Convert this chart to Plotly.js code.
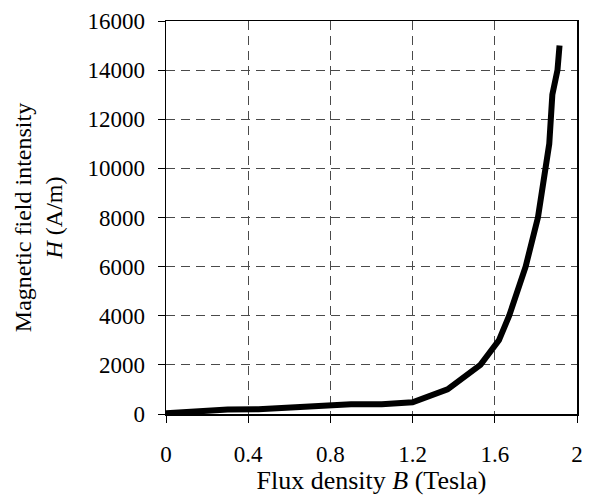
<!DOCTYPE html>
<html>
<head>
<meta charset="utf-8">
<script src="https://cdn.plot.ly/plotly-3.0.1.min.js"></script>
<style>html,body{margin:0;padding:0;background:#fff;}#chart{width:589px;height:495px;}</style>
</head>
<body>
<div id="chart"></div>
<script>
var fluxB = [0, 0.3, 0.45, 0.9, 1.05, 1.2, 1.37, 1.53, 1.62, 1.67, 1.75, 1.81, 1.865, 1.88, 1.905, 1.915];
var fieldH = [30, 180, 190, 400, 400, 480, 1000, 2000, 3000, 4000, 6000, 8000, 11000, 13000, 14000, 15000];
var xTicks = [0, 0.4, 0.8, 1.2, 1.6, 2];
var yTicks = [0, 2000, 4000, 6000, 8000, 10000, 12000, 14000, 16000];

var fam = 'Liberation Serif, Times New Roman, serif';

Plotly.newPlot('chart', [{
  x: fluxB, y: fieldH, type: 'scatter', mode: 'lines',
  line: {color: '#000', width: 6}, hoverinfo: 'none'
}], {
  width: 589, height: 495,
  margin: {l: 166, r: 12, t: 21, b: 81},
  paper_bgcolor: '#fff', plot_bgcolor: '#fff',
  showlegend: false,
  font: {family: fam, size: 22, color: '#000'},
  xaxis: {
    range: [0, 2], tickvals: xTicks, ticktext: xTicks.map(String),
    ticks: 'outside', ticklen: 7, tickcolor: '#000', tickwidth: 1,
    ticklabelstandoff: 12,
    showline: true, linecolor: '#000', linewidth: 1.5, mirror: true,
    showgrid: true, gridcolor: '#4a4a4a', gridwidth: 1, griddash: '9px,6px',
    zeroline: false,
    tickfont: {family: fam, size: 23, color: '#000'},
    title: {text: 'Flux density <i>B</i> (Tesla)', font: {family: fam, size: 26, color: '#000'}, standoff: 2}
  },
  yaxis: {
    range: [0, 16000], tickvals: yTicks, ticktext: yTicks.map(String),
    ticks: 'outside', ticklen: 7, tickcolor: '#000', tickwidth: 1,
    ticklabelstandoff: 8,
    showline: true, linecolor: '#000', linewidth: 1.5, mirror: true,
    showgrid: true, gridcolor: '#4a4a4a', gridwidth: 1, griddash: '9px,6px',
    zeroline: false,
    tickfont: {family: fam, size: 23, color: '#000'},
    title: {text: 'Magnetic field intensity<br><i>H</i> (A/m)', font: {family: fam, size: 24, color: '#000'}, standoff: 18}
  }
}, {displayModeBar: false, staticPlot: true});
</script>
</body>
</html>
